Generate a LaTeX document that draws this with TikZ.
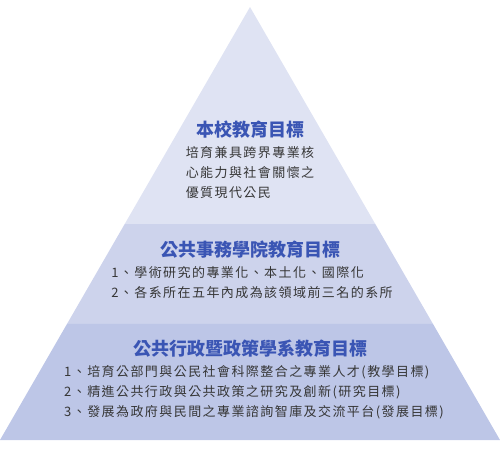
\documentclass[tikz,border=0pt]{standalone}
\usepackage{fontspec}
\newfontfamily\cjk[LetterSpace=11]{Noto Sans CJK TC}
\newfontfamily\cjktitle{Noto Sans CJK TC}
\usepackage{tikz}
\usetikzlibrary{calc}

\definecolor{bandtop}{HTML}{DFE3F3}
\definecolor{bandmid}{HTML}{CDD3EC}
\definecolor{bandlow}{HTML}{BDC6E7}
\definecolor{titleblue}{HTML}{3A55B4}
\definecolor{bodygray}{HTML}{363636}

\begin{document}
\begin{tikzpicture}[
        x=1pt, y=-1pt,
        title/.style={font=\cjktitle\fontsize{18}{20}\selectfont\bfseries, text=titleblue, inner sep=0pt},
        body/.style={font=\cjk\fontsize{13}{20}\selectfont, text=bodygray, align=left, inner sep=0pt}
    ]
        \useasboundingbox (0,0) rectangle (500,450);

        \coordinate (apex) at (250, 7);
        \coordinate (bl) at (0, 440);
        \coordinate (br) at (500, 440);
        \coordinate (l1) at ($(apex)!0.5!(bl)$);
        \coordinate (r1) at ($(apex)!0.5!(br)$);
        \coordinate (l2) at ($(apex)!0.732!(bl)$);
        \coordinate (r2) at ($(apex)!0.732!(br)$);

        % three bands of the pyramid
        \fill[bandtop] (apex) -- (l1) -- (r1) -- cycle;
        \fill[bandmid] (l1) -- (l2) -- (r2) -- (r1) -- cycle;
        \fill[bandlow] (l2) -- (bl) -- (br) -- (r2) -- cycle;

        \node[title] (t1) at (250, 130) {本校教育目標};
        \node[body, anchor=north] (b1) at (250, 146)
            {培育兼具跨界專業核\\心能力與社會關懷之\\優質現代公民};

        \node[title] (t2) at (250, 250) {公共事務學院教育目標};
        \node[body, anchor=north] (b2) at (252, 266)
            {1、學術研究的專業化、本土化、國際化\\2、各系所在五年內成為該領域前三名的系所};

        \node[title] (t3) at (250, 349) {公共行政暨政策學系教育目標};
        \node[body, anchor=north] (b3) at (254, 365)
            {1、培育公部門與公民社會科際整合之專業人才(教學目標)\\2、精進公共行政與公共政策之研究及創新(研究目標)\\3、發展為政府與民間之專業諮詢智庫及交流平台(發展目標)};
\end{tikzpicture}
\end{document}
